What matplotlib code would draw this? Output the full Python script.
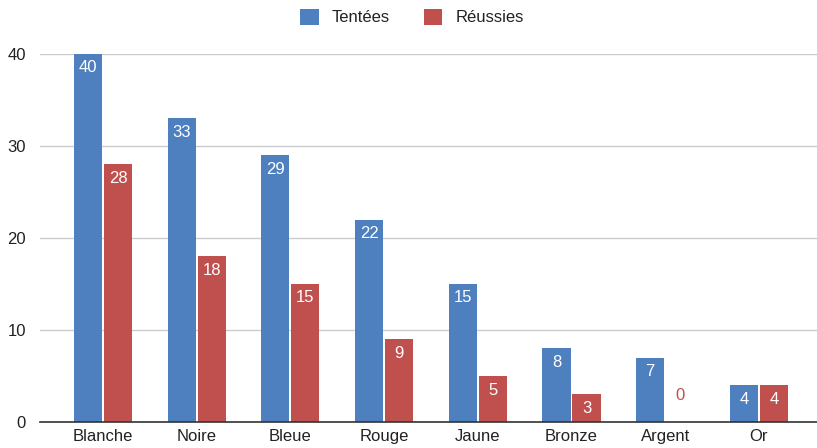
import matplotlib
matplotlib.use("Agg")
import matplotlib.pyplot as plt
from matplotlib.patches import Patch
import numpy as np

plt.rcParams["font.family"] = ["Liberation Sans", "DejaVu Sans"]

categories = ["Blanche", "Noire", "Bleue", "Rouge", "Jaune", "Bronze", "Argent", "Or"]
tentees = [40, 33, 29, 22, 15, 8, 7, 4]
reussies = [28, 18, 15, 9, 5, 3, 0, 4]
yticks = [0, 10, 20, 30, 40]

blue = "#4e80bf"
red = "#c0504d"

fig = plt.figure(figsize=(8.17, 4.48), dpi=100)
W, H = 817, 448
ax = fig.add_axes([40 / W, (H - 422) / H, 777 / W, (422 - 54) / H])

x = np.arange(len(categories))
bw = 0.30
off = 0.16
b1 = ax.bar(x - off, tentees, bw, color=blue, zorder=3)
b2 = ax.bar(x + off, reussies, bw, color=red, zorder=3)

ppu = 368 / 40.0  # pixels per unit
for bars, vals, col in ((b1, tentees, blue), (b2, reussies, red)):
    for b, v in zip(bars, vals):
        cx = b.get_x() + b.get_width() / 2
        if v >= 3:
            ax.text(cx, v - 14 / ppu, str(v), ha="center", va="center",
                    color="white", fontsize=12, zorder=4)
        else:
            ax.text(cx, v + 27 / ppu, str(v), ha="center", va="center",
                    color=col, fontsize=12, zorder=4)

ax.set_xlim(-0.672, 7.62)
ax.set_ylim(0, 40)
ax.set_yticks(yticks)
ax.set_xticks(x)
ax.set_xticklabels(categories)
ax.tick_params(axis="both", length=0, labelsize=12, labelcolor="#222222")
ax.tick_params(axis="x", pad=5)
ax.tick_params(axis="y", pad=10)
ax.grid(axis="y", color="#cccccc", linewidth=1, zorder=0)
for s in ["top", "right", "left"]:
    ax.spines[s].set_visible(False)
ax.spines["bottom"].set_color("#333333")
ax.spines["bottom"].set_linewidth(1.2)
ax.spines["bottom"].set_zorder(5)

handles = [Patch(facecolor=blue, label="Tentées"), Patch(facecolor=red, label="Réussies")]
fig.legend(handles=handles, loc="center", bbox_to_anchor=(412 / W, 1 - 17 / H),
           ncol=2, frameon=False, fontsize=12, handlelength=1.1, handleheight=1.1,
           columnspacing=2.0, handletextpad=0.8, labelcolor="#222222")

fig.savefig("out.png", dpi=100)
